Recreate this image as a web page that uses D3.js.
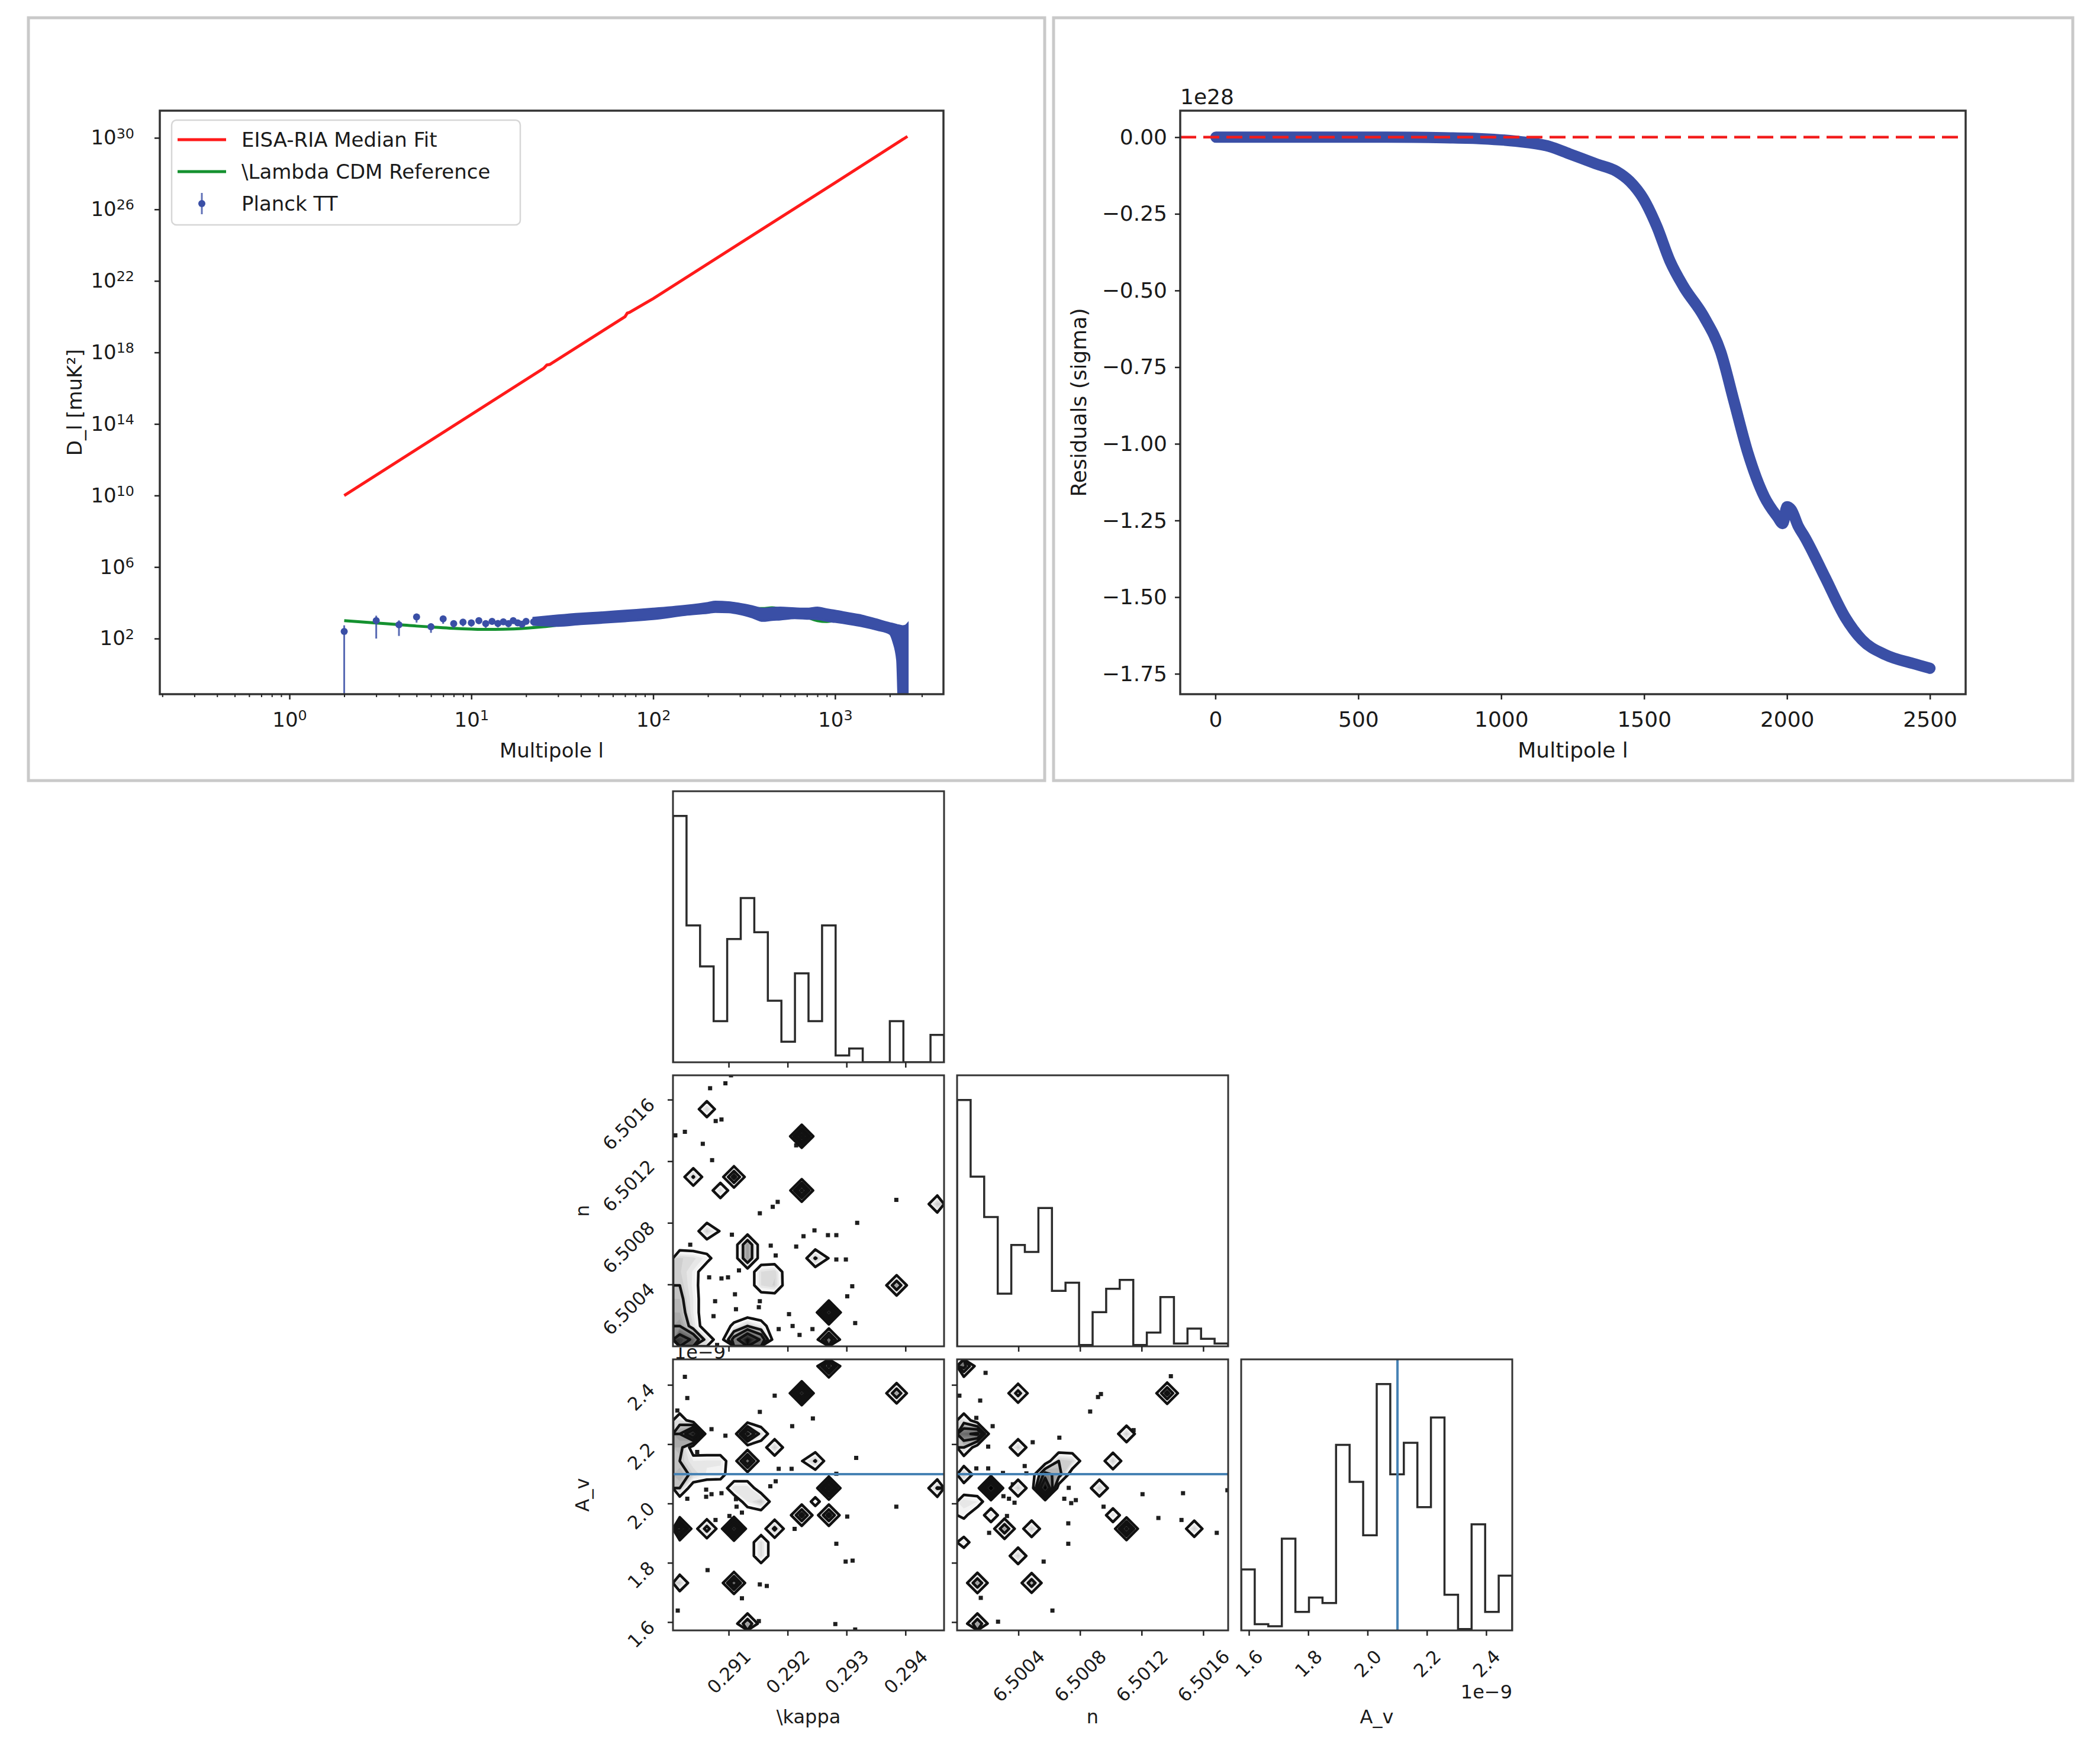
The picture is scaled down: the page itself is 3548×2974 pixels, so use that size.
<!DOCTYPE html>
<html lang="en">
<head>
<meta charset="utf-8">
<title>EISA-RIA fit vs Planck TT</title>
<script src="https://cdnjs.cloudflare.com/ajax/libs/d3/7.8.5/d3.min.js"></script>
<style>
  body { margin: 0; background: #fff; }
  text { font-family: "DejaVu Sans", sans-serif; fill: #1a1a1a; }
</style>
</head>
<body>
<svg id="fig" width="3548" height="2974"></svg>
<script>
// ---------- spectrum panel (log10 of D_l) ----------
var fitL    = [2, 10, 25, 26, 27, 70, 72, 74, 100, 300, 1000, 2500];
var fitLogD = [10.0, 14.53, 17.11, 17.3, 17.33, 20.0, 20.2, 20.24, 21.01, 24.1, 27.49, 30.08];

var lcdmL    = [2, 3, 4, 5, 6, 8, 10, 12, 15, 20, 25, 30, 40, 50, 70, 100, 150, 200, 250, 300, 400, 450, 500, 600, 700, 800, 900, 1000, 1200, 1500, 2000, 2500];
var lcdmLogD = [3.0, 2.87, 2.78, 2.7, 2.65, 2.57, 2.53, 2.51, 2.52, 2.58, 2.66, 2.75, 2.9, 3.0, 3.15, 3.3, 3.5, 3.65, 3.7, 3.68, 3.68, 3.72, 3.65, 3.5, 3.2, 3.0, 2.95, 3.0, 3.0, 2.85, 2.55, 2.35];

// low multipoles: single points with error bars
var planckL   = [2, 3, 4, 5, 6, 7, 8, 9, 10, 11, 12, 13, 14, 15, 16, 17, 18, 19, 20, 22, 24, 26, 28];
var planckD   = [250, 1000, 590, 1630, 460, 1270, 680, 830, 760, 1000, 680, 910, 700, 860, 680, 1000, 760, 630, 910, 860, 1070, 910, 1260];
var planckErr = [300, 900, 450, 850, 250, 600, 300, 350, 300, 350, 280, 300, 280, 280, 250, 260, 240, 220, 230, 220, 220, 200, 220];

// high multipoles: dense points, kept as the band they form (log10 upper / lower)
var bandL  = [22, 30, 40, 50, 70, 100, 150, 200, 220, 260, 300, 350, 400, 450, 500, 600, 700, 800, 900, 1000, 1200, 1400, 1700, 2000, 2100, 2200, 2250, 2350, 2450, 2500];
var bandHi = [3.15, 3.28, 3.38, 3.44, 3.55, 3.66, 3.82, 3.98, 4.05, 4.02, 3.93, 3.8, 3.66, 3.7, 3.72, 3.68, 3.66, 3.72, 3.62, 3.55, 3.4, 3.28, 3.05, 2.85, 2.8, 2.74, 2.72, 2.68, 2.72, 2.8];
var bandLo = [2.78, 2.72, 2.82, 2.88, 2.98, 3.1, 3.33, 3.45, 3.5, 3.48, 3.38, 3.2, 3.0, 3.05, 3.08, 3.15, 3.12, 3.1, 3.0, 2.94, 2.82, 2.7, 2.5, 2.28, 1.8, 0.8, -3, -3, -3, -3];

var logXTicks = [1, 10, 100, 1000];
var logYTicks = [2, 6, 10, 14, 18, 22, 26, 30];

// ---------- residual panel (units of 1e28) ----------
var resL = [2, 200, 400, 600, 800, 932, 1050, 1168, 1238, 1332, 1403, 1450, 1497, 1544, 1591, 1638, 1709, 1768, 1815, 1862, 1921, 1968, 1985, 2000, 2015, 2040, 2062, 2133, 2203, 2262, 2345, 2439, 2500];
var resV = [0, 0, 0, 0, -0.002, -0.005, -0.013, -0.03, -0.054, -0.087, -0.111, -0.144, -0.2, -0.29, -0.405, -0.487, -0.585, -0.7, -0.863, -1.026, -1.173, -1.24, -1.26, -1.205, -1.215, -1.27, -1.304, -1.435, -1.565, -1.639, -1.688, -1.716, -1.732];
var resXTicks = [0, 500, 1000, 1500, 2000, 2500];
var resYTicks = [0, -0.25, -0.5, -0.75, -1.0, -1.25, -1.5, -1.75];

// ---------- corner plot ----------
var kappaTicks = [0.291, 0.292, 0.293, 0.294];
var nTicks     = [6.5004, 6.5008, 6.5012, 6.5016];
var avTicks    = [1.6, 1.8, 2.0, 2.2, 2.4];
var avTruth    = 2.1;

var kappaHist = [36, 20, 14, 6, 18, 24, 19, 9, 3, 13, 6, 20, 1, 2, 0, 0, 6, 0, 0, 4];
var nHist     = [36, 24.8, 18.9, 7.7, 14.8, 13.8, 20.2, 8.1, 9.3, 0.2, 5, 8.4, 9.7, 0.2, 2, 7.2, 0.4, 2.6, 1.1, 0.4];
var avHist    = [8.9, 0.9, 0.6, 13.4, 2.7, 4.8, 4.0, 27.1, 21.7, 13.9, 36, 22.8, 27.4, 18, 31.1, 5.2, 0.2, 15.5, 2.7, 8];

// 2D histogram cells [bin x, bin y (from bottom), weight]
var kappaNCells = [[9,15,10],[9,11,9],[2,17,3.6],[1,12,4.2],[4,12,7],[3,11,3.4],[2,8,3.8],[3,8,1.3],[5,7,6],[5,6,6],
  [6,5,3],[7,5,3.4],[6,4,3],[7,4,3.6],[10,6,4.2],[11,6,1.4],[16,4,6],[19,10,4],[11,2,12],[11,0,8],
  [4,0,7],[5,0,12],[6,0,8],[5,1,4],[4,1,2],[6,1,2.5],[0,0,10],[1,0,8],[2,0,3],[0,1,6],[1,1,3],
  [0,2,5],[0,3,4.5],[0,4,4],[0,5,3.6],[1,2,2.5],[1,3,2.5],[1,4,2.3],[1,5,2.4],[0,6,3.6],[1,6,3.2],[2,6,2.2]];
var kappaAvCells = [[11,19,9],[9,17,12],[16,17,6],[1,14,12],[0,14,6],[0,13,5],[0,15,3],[5,14,9],[6,14,3],[7,13,3.8],
  [5,12,8],[0,12,4],[0,11,5],[0,10,4],[1,11,3.5],[1,12,2.5],[2,12,2.6],[3,12,2.6],[2,11,2.4],[3,11,2.3],
  [4,10,3],[5,10,3],[5,9,2.5],[6,9,4],[10,12,4.2],[9,12,1.4],[11,10,10],[10,9,2.2],[19,10,4.2],[9,8,7],
  [11,8,7],[0,7,10],[2,7,5],[4,7,12],[7,7,4.5],[6,6,3.2],[6,5,3.2],[4,3,8],[0,3,3.8],[5,0,6]];
var nAvCells = [[0,19,7],[4,17,5],[15,17,7],[1,14,9],[0,14,8],[0,15,3],[0,13,4],[4,13,3.8],[12,14,3.8],[6,10,13],
  [6,11,7],[7,11,5],[7,12,4],[8,12,3.5],[11,12,3.8],[0,11,4],[2,10,14],[4,10,3.9],[10,10,3.9],[0,9,3],
  [1,9,2.5],[2,8,3],[3,7,6],[0,8,2],[5,7,3.8],[12,7,9],[11,8,3],[17,7,3.7],[0,6,2.5],[4,5,3.8],
  [1,3,6],[5,3,5.5],[1,0,6]];

// lone samples outside the contours
var kappaNDots = [[0.291035,6.50176],[0.29094,6.501708],[0.29068,6.501676],[0.290775,6.501463],[0.290873,6.501473],
  [0.29009,6.50137],[0.290252,6.501393],[0.290556,6.501315],[0.290714,6.501209],[0.292141,6.501305],
  [0.291827,6.500938],[0.291743,6.500906],[0.291524,6.500864],[0.293176,6.500802],[0.29384,6.500951],
  [0.292451,6.500753],[0.292265,6.500715],[0.29268,6.500722],[0.292822,6.500722],[0.29105,6.500725],
  [0.291709,6.500654],[0.292141,6.500648],[0.291793,6.50059],[0.292822,6.500564],[0.292984,6.500564],
  [0.290343,6.50066],[0.29117,6.500493],[0.290664,6.500448],[0.290873,6.500441],[0.290984,6.500448],
  [0.293092,6.50039],[0.293007,6.500325],[0.290765,6.500293],[0.291102,6.500338],[0.291524,6.500293],
  [0.291507,6.500254],[0.291119,6.500241],[0.290738,6.500196],[0.292019,6.500209],[0.29208,6.500132],
  [0.291844,6.500112],[0.292417,6.500112],[0.292198,6.500074],[0.293142,6.500151],[0.290387,6.500151],
  [0.290799,6.500009]];
var kappaAvDots = [[0.290252,2.4281],[0.290293,2.3566],[0.290124,2.3145],[0.290704,2.2516],[0.29094,2.2296],
  [0.290461,2.1747],[0.291524,2.3098],[0.291776,2.3646],[0.292073,2.2617],[0.292424,2.2877],
  [0.293159,2.1547],[0.291844,2.1179],[0.292063,2.1179],[0.292822,2.1012],[0.291793,2.0758],
  [0.291702,2.0591],[0.290613,2.0477],[0.290704,2.0323],[0.290873,2.0357],[0.290613,2.0236],
  [0.290293,2.017],[0.291119,2.0156],[0.291129,1.9902],[0.29122,1.9702],[0.291008,1.9588],
  [0.290772,1.9454],[0.293007,1.9568],[0.292114,1.9153],[0.292822,1.8652],[0.29298,1.805],
  [0.293098,1.8083],[0.29384,1.9902],[0.290637,1.7763],[0.291524,1.7281],[0.291642,1.7228],
  [0.29122,1.6813],[0.290131,1.6399],[0.292805,1.5944],[0.293142,1.576],[0.291507,1.6044]];
var nAvDots = [[6.500185,2.4415],[6.500015,2.3646],[6.50015,2.348],[6.500125,2.2897],[6.500231,2.2617],
  [6.500202,2.1928],[6.500491,2.2075],[6.500664,2.2229],[6.500864,2.3111],[6.500915,2.3599],
  [6.500934,2.37],[6.501388,2.4302],[6.501146,2.2483],[6.500125,2.1193],[6.500202,2.1193],
  [6.500298,2.1039],[6.500439,2.1273],[6.50045,2.1025],[6.500362,2.0658],[6.500373,2.0036],
  [6.500337,2.017],[6.500301,2.0256],[6.500725,2.0537],[6.500696,2.017],[6.500741,2.0022],
  [6.500771,2.0123],[6.500722,1.934],[6.500722,1.8652],[6.500951,1.9902],[6.501204,2.0323],
  [6.501467,2.0357],[6.501307,1.9521],[6.501457,1.9454],[6.501686,1.902],[6.501755,2.0457],
  [6.500562,1.805],[6.500154,1.6827],[6.500619,1.6399],[6.500266,1.6024],[6.500324,1.9588],
  [6.500208,1.902]];

var blue = '#3a4fa6';
var svg = d3.select('#fig');
var defs = svg.append('defs');

function clipRect(id, x, y, w, h) {
  defs.append('clipPath').attr('id', id).append('rect')
    .attr('x', x).attr('y', y).attr('width', w).attr('height', h);
  return 'url(#' + id + ')';
}

function styleAxis(g, size) {
  g.attr('font-size', size).attr('font-family', '"DejaVu Sans", sans-serif');
  g.select('.domain').remove();
  g.selectAll('.tick line').attr('stroke', '#222').attr('stroke-width', 2.5);
  g.selectAll('.tick text').attr('fill', '#1a1a1a');
}

// turn "10" labels into 10^k with a raised exponent
function powerLabels(g, expOf) {
  g.selectAll('.tick text').each(function(d) {
    var t = d3.select(this);
    t.text(null);
    t.append('tspan').text('10');
    t.append('tspan').attr('dy', '-0.45em').attr('font-size', '0.7em').text(expOf(d));
  });
}

// grey picture frames
svg.append('rect').attr('x', 48).attr('y', 30).attr('width', 1717).attr('height', 1289)
  .attr('fill', '#fff').attr('stroke', '#c9c9c9').attr('stroke-width', 5);
svg.append('rect').attr('x', 1780).attr('y', 30).attr('width', 1722).attr('height', 1289)
  .attr('fill', '#fff').attr('stroke', '#c9c9c9').attr('stroke-width', 5);

// =============== spectrum panel ===============
(function() {
  var x0 = 270, x1 = 1594, y0 = 187, y1 = 1173;
  var xs = d3.scaleLog().domain([0.1937, 3945]).range([x0, x1]);
  var ys = d3.scaleLog().domain([Math.pow(10, -1.11), Math.pow(10, 31.52)]).range([y1, y0]);
  var g = svg.append('g');
  var plot = g.append('g').attr('clip-path', clipRect('clipA', x0, y0, x1 - x0, y1 - y0));

  var fit = fitL.map(function(l, i) { return [l, fitLogD[i]]; });
  plot.append('path').datum(fit)
    .attr('d', d3.line().x(function(d) { return xs(d[0]); }).y(function(d) { return ys(Math.pow(10, d[1])); }))
    .attr('fill', 'none').attr('stroke', '#ff1a1a').attr('stroke-width', 5);

  var lcdm = lcdmL.map(function(l, i) { return [l, lcdmLogD[i]]; });
  plot.append('path').datum(lcdm)
    .attr('d', d3.line().curve(d3.curveMonotoneX)
      .x(function(d) { return xs(d[0]); }).y(function(d) { return ys(Math.pow(10, d[1])); }))
    .attr('fill', 'none').attr('stroke', '#14912f').attr('stroke-width', 5);

  var band = bandL.map(function(l, i) { return [l, bandLo[i], bandHi[i]]; });
  plot.append('path').datum(band)
    .attr('d', d3.area().curve(d3.curveMonotoneX)
      .x(function(d) { return xs(d[0]); })
      .y0(function(d) { return Math.min(y1 + 20, ys(Math.pow(10, d[1]))); })
      .y1(function(d) { return ys(Math.pow(10, d[2])); }))
    .attr('fill', blue).attr('stroke', blue).attr('stroke-width', 4);

  var pts = planckL.map(function(l, i) { return {l: l, d: planckD[i], e: planckErr[i]}; });
  plot.selectAll('line.err').data(pts).enter().append('line')
    .attr('x1', function(d) { return xs(d.l); }).attr('x2', function(d) { return xs(d.l); })
    .attr('y1', function(d) { return d.d - d.e > 0 ? ys(d.d - d.e) : y1 + 10; })
    .attr('y2', function(d) { return ys(d.d + d.e); })
    .attr('stroke', blue).attr('stroke-width', 3).attr('opacity', 0.85);
  plot.selectAll('circle.pt').data(pts).enter().append('circle')
    .attr('cx', function(d) { return xs(d.l); }).attr('cy', function(d) { return ys(d.d); })
    .attr('r', 6).attr('fill', blue);

  // spines
  g.append('rect').attr('x', x0).attr('y', y0).attr('width', x1 - x0).attr('height', y1 - y0)
    .attr('fill', 'none').attr('stroke', '#333').attr('stroke-width', 3.5);

  // x axis (major + minor)
  var minor = [];
  [0.1, 1, 10, 100, 1000].forEach(function(dec) {
    for (var k = 2; k <= 9; k++) { var v = dec * k; if (v > 0.1937 && v < 3945) minor.push(v); }
  });
  var gxm = g.append('g').attr('transform', 'translate(0,' + y1 + ')')
    .call(d3.axisBottom(xs).tickValues(minor).tickSize(5).tickFormat(''));
  styleAxis(gxm, 34);
  gxm.selectAll('.tick line').attr('stroke-width', 2);
  var gx = g.append('g').attr('transform', 'translate(0,' + y1 + ')')
    .call(d3.axisBottom(xs).tickValues(logXTicks).tickSize(9).tickPadding(22));
  styleAxis(gx, 34);
  powerLabels(gx, function(d) { return Math.round(Math.log10(d)); });

  var gy = g.append('g').attr('transform', 'translate(' + x0 + ',0)')
    .call(d3.axisLeft(ys).tickValues(logYTicks.map(function(e) { return Math.pow(10, e); })).tickSize(9).tickPadding(34));
  styleAxis(gy, 34);
  powerLabels(gy, function(d) { return Math.round(Math.log10(d)); });
  gy.selectAll('.tick text').attr('text-anchor', 'end');

  g.append('text').attr('x', (x0 + x1) / 2).attr('y', 1280).attr('text-anchor', 'middle')
    .attr('font-size', 34).text('Multipole l');
  g.append('text').attr('transform', 'translate(126,680) rotate(-90)').attr('text-anchor', 'middle')
    .attr('dominant-baseline', 'central').attr('font-size', 34).text('D_l [muK²]');

  // legend
  var lg = g.append('g');
  lg.append('rect').attr('x', 290).attr('y', 203).attr('width', 589).attr('height', 177).attr('rx', 8)
    .attr('fill', '#fff').attr('fill-opacity', 0.85).attr('stroke', '#d6d6d6').attr('stroke-width', 2.5);
  var items = [{label: 'EISA-RIA Median Fit', color: '#ff1a1a', kind: 'line'},
               {label: '\\Lambda CDM Reference', color: '#14912f', kind: 'line'},
               {label: 'Planck TT', color: blue, kind: 'err'}];
  items.forEach(function(it, i) {
    var cy = 236 + i * 54;
    if (it.kind === 'line') {
      lg.append('line').attr('x1', 300).attr('x2', 382).attr('y1', cy).attr('y2', cy)
        .attr('stroke', it.color).attr('stroke-width', 5);
    } else {
      lg.append('line').attr('x1', 341).attr('x2', 341).attr('y1', cy - 18).attr('y2', cy + 18)
        .attr('stroke', it.color).attr('stroke-width', 3).attr('opacity', 0.8);
      lg.append('circle').attr('cx', 341).attr('cy', cy).attr('r', 6).attr('fill', it.color);
    }
    lg.append('text').attr('x', 408).attr('y', cy + 12).attr('font-size', 34).text(it.label);
  });
})();

// =============== residual panel ===============
(function() {
  var x0 = 1994, x1 = 3321, y0 = 187, y1 = 1173;
  var xs = d3.scaleLinear().domain([-123, 2625]).range([x0, x1]);
  var ys = d3.scaleLinear().domain([-1.8165, 0.0865]).range([y1, y0]);
  var g = svg.append('g');
  var plot = g.append('g').attr('clip-path', clipRect('clipB', x0, y0, x1 - x0, y1 - y0));

  var res = resL.map(function(l, i) { return [l, resV[i]]; });
  plot.append('path').datum(res)
    .attr('d', d3.line().curve(d3.curveMonotoneX).x(function(d) { return xs(d[0]); }).y(function(d) { return ys(d[1]); }))
    .attr('fill', 'none').attr('stroke', blue).attr('stroke-width', 19)
    .attr('stroke-linecap', 'round').attr('stroke-linejoin', 'round');
  plot.append('line').attr('x1', x0).attr('x2', x1).attr('y1', ys(0)).attr('y2', ys(0))
    .attr('stroke', '#f21d1d').attr('stroke-width', 4.5).attr('stroke-dasharray', '27 12');

  g.append('rect').attr('x', x0).attr('y', y0).attr('width', x1 - x0).attr('height', y1 - y0)
    .attr('fill', 'none').attr('stroke', '#333').attr('stroke-width', 3.5);

  var gx = g.append('g').attr('transform', 'translate(0,' + y1 + ')')
    .call(d3.axisBottom(xs).tickValues(resXTicks).tickSize(9).tickPadding(20).tickFormat(d3.format('d')));
  styleAxis(gx, 36);
  var gy = g.append('g').attr('transform', 'translate(' + x0 + ',0)')
    .call(d3.axisLeft(ys).tickValues(resYTicks).tickSize(9).tickPadding(13).tickFormat(d3.format('.2f')));
  styleAxis(gy, 36);

  g.append('text').attr('x', x0).attr('y', 176).attr('font-size', 36).text('1e28');
  g.append('text').attr('x', (x0 + x1) / 2).attr('y', 1280).attr('text-anchor', 'middle')
    .attr('font-size', 36).text('Multipole l');
  g.append('text').attr('transform', 'translate(1822,680) rotate(-90)').attr('text-anchor', 'middle')
    .attr('dominant-baseline', 'central').attr('font-size', 36).text('Residuals (sigma)');
})();

// =============== corner plot ===============
var params = [
  {name: '\\kappa', dom: [0.29005, 0.29465], ticks: kappaTicks, fmt: d3.format('.3f'), hist: kappaHist},
  {name: 'n', dom: [6.50000, 6.50176], ticks: nTicks, fmt: d3.format('.4f'), hist: nHist},
  {name: 'A_v', dom: [1.573, 2.487], ticks: avTicks, fmt: d3.format('.1f'), hist: avHist}
];
var pairs = {
  '1-0': {cells: kappaNCells, dots: kappaNDots},
  '2-0': {cells: kappaAvCells, dots: kappaAvDots},
  '2-1': {cells: nAvCells, dots: nAvDots}
};
var S = 458, step = 480, cx0 = 1137, cy0 = 1337, nbins = 20;
var shade = d3.scaleLinear().domain([1.5, 12]).range(['#ffffff', '#000000']).clamp(true);

function rotLabel(g, str, place) {
  var t = g.append('text').attr('font-size', 31).attr('text-anchor', 'middle')
    .attr('dominant-baseline', 'central').text(str);
  var b = (t.node().getComputedTextLength() + 24) * Math.SQRT1_2;
  var p = place(b);
  t.attr('transform', 'translate(' + p[0] + ',' + p[1] + ') rotate(-45)');
}

for (var r = 0; r < 3; r++) {
  for (var c = 0; c <= r; c++) {
    var x0 = cx0 + c * step, y0 = cy0 + r * step, x1 = x0 + S, y1 = y0 + S;
    var px = params[c], py = params[r];
    var xs = d3.scaleLinear().domain(px.dom).range([x0, x1]);
    var g = svg.append('g');
    g.append('rect').attr('x', x0).attr('y', y0).attr('width', S).attr('height', S).attr('fill', '#fff');
    var plot = g.append('g').attr('clip-path', clipRect('clip' + r + c, x0, y0, S, S));
    var ys;

    if (r === c) {
      // 1D histogram as a step outline
      ys = d3.scaleLinear().domain([0, 1.1 * d3.max(px.hist)]).range([y1, y0]);
      var w = (px.dom[1] - px.dom[0]) / nbins;
      var stepPts = [[px.dom[0], 0]];
      px.hist.forEach(function(h, i) {
        stepPts.push([px.dom[0] + i * w, h]);
        stepPts.push([px.dom[0] + (i + 1) * w, h]);
      });
      stepPts.push([px.dom[1], 0]);
      plot.append('path').datum(stepPts)
        .attr('d', d3.line().x(function(d) { return xs(d[0]); }).y(function(d) { return ys(d[1]); }))
        .attr('fill', 'none').attr('stroke', '#2b2b2b').attr('stroke-width', 3.5);
      if (r === 2) {
        plot.append('line').attr('x1', xs(avTruth)).attr('x2', xs(avTruth)).attr('y1', y0).attr('y2', y1)
          .attr('stroke', '#4682b4').attr('stroke-width', 4);
      }
    } else {
      ys = d3.scaleLinear().domain(py.dom).range([y1, y0]);
      var pr = pairs[r + '-' + c];
      // lone samples first, contour fills paint over them
      plot.selectAll('rect.dot').data(pr.dots).enter().append('rect')
        .attr('x', function(d) { return xs(d[0]) - 3.5; }).attr('y', function(d) { return ys(d[1]) - 3.5; })
        .attr('width', 7).attr('height', 7).attr('fill', '#1e1e1e');

      var grid = new Array(nbins * nbins).fill(0);
      pr.cells.forEach(function(cell) { grid[cell[0] + cell[1] * nbins] = cell[2]; });
      var wx = (px.dom[1] - px.dom[0]) / nbins, wy = (py.dom[1] - py.dom[0]) / nbins;
      var proj = (function(xs, ys, px, py, wx, wy) {
        return d3.geoTransform({point: function(gx, gy) {
          this.stream.point(xs(px.dom[0] + gx * wx), ys(py.dom[0] + gy * wy));
        }});
      })(xs, ys, px, py, wx, wy);
      var gp = d3.geoPath(proj);
      var fills = d3.contours().size([nbins, nbins]).thresholds(d3.range(1.5, 14.5, 0.5))(grid);
      plot.selectAll('path.fill').data(fills).enter().append('path')
        .attr('d', gp).attr('fill', function(d) { return shade(d.value); });
      var lines = d3.contours().size([nbins, nbins]).thresholds([1.5, 4, 6, 8.5])(grid);
      plot.selectAll('path.lvl').data(lines).enter().append('path')
        .attr('d', gp).attr('fill', 'none').attr('stroke', '#111').attr('stroke-width', 4.5)
        .attr('stroke-linejoin', 'round');

      if (r === 2) {
        plot.append('line').attr('x1', x0).attr('x2', x1).attr('y1', ys(avTruth)).attr('y2', ys(avTruth))
          .attr('stroke', '#4682b4').attr('stroke-width', 4);
      }
    }

    g.append('rect').attr('x', x0).attr('y', y0).attr('width', S).attr('height', S)
      .attr('fill', 'none').attr('stroke', '#333').attr('stroke-width', 3);

    // bottom ticks
    g.selectAll('line.xt').data(px.ticks).enter().append('line')
      .attr('x1', function(d) { return xs(d); }).attr('x2', function(d) { return xs(d); })
      .attr('y1', y1).attr('y2', y1 + 9).attr('stroke', '#222').attr('stroke-width', 2.5);
    if (r === 2) {
      px.ticks.forEach(function(t) {
        rotLabel(g, px.fmt(t), function(b) { return [xs(t), y1 + 30 + b / 2]; });
      });
      g.append('text').attr('x', x0 + S / 2).attr('y', 2912).attr('text-anchor', 'middle')
        .attr('font-size', 32).text(px.name);
    }
    // left ticks for the 2D panels
    if (r !== c) {
      g.selectAll('line.yt').data(py.ticks).enter().append('line')
        .attr('x1', x0 - 9).attr('x2', x0).attr('y1', function(d) { return ys(d); }).attr('y2', function(d) { return ys(d); })
        .attr('stroke', '#222').attr('stroke-width', 2.5);
      if (c === 0) {
        py.ticks.forEach(function(t) {
          var yy = ys(t);
          rotLabel(g, py.fmt(t), function(b) { return [x0 - 28 - b / 2, yy - 6 + b / 2]; });
        });
        g.append('text').attr('transform', 'translate(984,' + (y0 + S / 2) + ') rotate(-90)')
          .attr('text-anchor', 'middle').attr('dominant-baseline', 'central').attr('font-size', 32).text(py.name);
      }
    }
  }
}

// scale offsets of the A_v axes
svg.append('text').attr('x', cx0 + 2 * step + S).attr('y', 2870).attr('text-anchor', 'end')
  .attr('font-size', 32).text('1e\u22129');
svg.append('text').attr('x', cx0 + 2).attr('y', cy0 + 2 * step - 1).attr('font-size', 32)
  .attr('clip-path', clipRect('clipOff', cx0 - 10, cy0 + step + S + 2, 200, 30)).text('1e\u22129');
</script>
</body>
</html>
